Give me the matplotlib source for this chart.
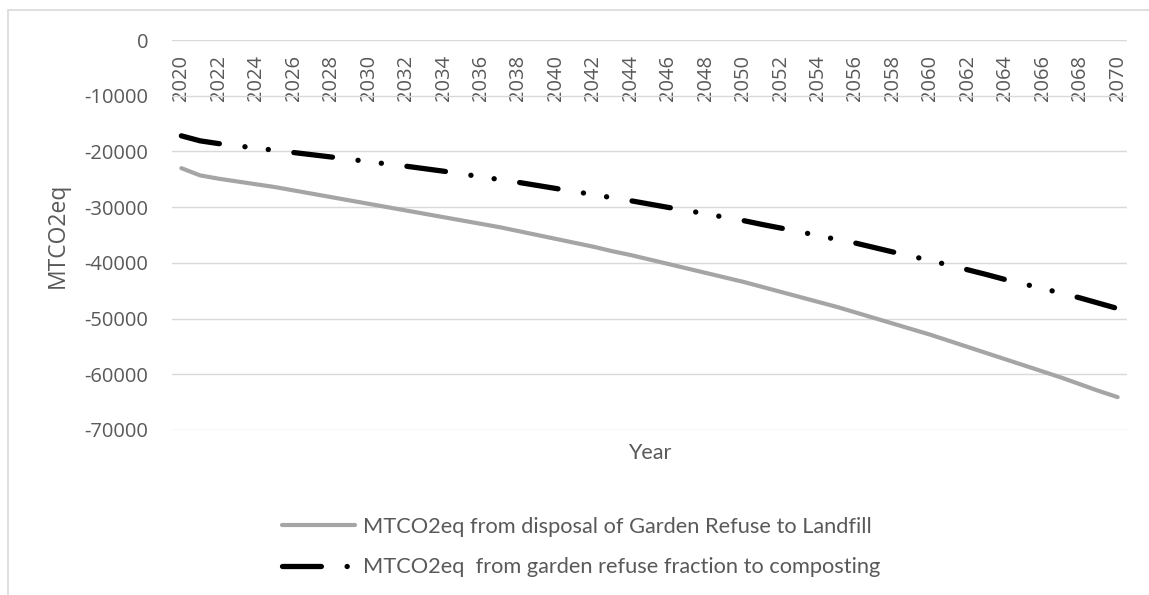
import matplotlib
matplotlib.use("Agg")
import matplotlib.pyplot as plt
from matplotlib.patches import Rectangle

years = list(range(2020, 2071))
landfill = [-23000, -24300, -24900, -25400, -25900, -26400, -27000, -27600, -28200, -28800,
            -29400, -30000, -30600, -31200, -31800, -32400, -33000, -33600, -34300, -35000,
            -35700, -36400, -37100, -37900, -38600, -39400, -40200, -41000, -41800, -42600,
            -43400, -44300, -45200, -46100, -47000, -47900, -48900, -49900, -50900, -51900,
            -52900, -54000, -55100, -56200, -57300, -58400, -59500, -60600, -61800, -63000,
            -64100]
composting = [-17200, -18100, -18600, -19000, -19400, -19800, -20200, -20600, -21000, -21400,
              -21850, -22250, -22650, -23100, -23550, -24050, -24550, -25050, -25550, -26100,
              -26650, -27200, -27750, -28300, -28850, -29450, -30050, -30600, -31200, -31800,
              -32400, -33100, -33750, -34400, -35100, -35800, -36450, -37250, -38050, -38800,
              -39600, -40400, -41250, -42100, -43000, -43800, -44600, -45450, -46300, -47250,
              -48200]
label_landfill = "MTCO2eq from disposal of Garden Refuse to Landfill"
label_compost = "MTCO2eq  from garden refuse fraction to composting"
y_ticks = [0, -10000, -20000, -30000, -40000, -50000, -60000, -70000]

plt.rcParams['font.family'] = ['Open Sans', 'DejaVu Sans']
plt.rcParams['lines.scale_dashes'] = False
txt = '#595959'

W, H = 1149, 595
fig = plt.figure(figsize=(W / 100, H / 100), dpi=100)
# light frame of the chart area (cropped at right/bottom like the original)
fig.patches.append(Rectangle((8 / W, -0.1), 1.2, 1.1 - 10 / H, transform=fig.transFigure,
                             fill=False, edgecolor='#D9D9D9', linewidth=1.2))

ax = fig.add_axes([172 / W, 1 - 430 / H, (1127 - 172) / W, 390 / H])
ax.plot(years, landfill, color='#A5A5A5', lw=3.0, solid_capstyle='round',
        solid_joinstyle='round', label=label_landfill)
ax.plot(years, composting, color='black', lw=3.8, dash_capstyle='round',
        linestyle=(0, (28, 18.5, 0.1, 16.8, 0.1, 18.5)), label=label_compost)

ax.set_xlim(2019.5, 2070.5)
ax.set_ylim(-70000, 0)
ax.set_yticks(y_ticks)
ax.set_yticklabels([str(v) for v in y_ticks])
ax.yaxis.grid(True, color='#D9D9D9', linewidth=1.0)
ax.set_axisbelow(True)
for s in ax.spines.values():
    s.set_visible(False)
ax.tick_params(axis='y', length=0, pad=17, labelsize=14.5, labelcolor=txt)

# category labels sit just under the zero line
ax.xaxis.tick_top()
ax.set_xticks(years[::2])
ax.set_xticklabels([str(y) for y in years[::2]], rotation=90)
ax.tick_params(axis='x', length=0, pad=-10.5, labelsize=14.5, labelcolor=txt)
for lab in ax.get_xticklabels():
    lab.set_va('top')

ax.set_ylabel("MTCO2eq", fontsize=16.5, color=txt, va='center')
ax.yaxis.set_label_coords((58 - 172) / 955, 0.5)
ax.xaxis.set_label_position('bottom')
ax.set_xlabel("Year", fontsize=15.5, color=txt, va='center', family='Lato')
ax.xaxis.set_label_coords(0.5, (430 - 453) / 390)

fig.legend(loc='center left', bbox_to_anchor=(282 / W, 1 - 547 / H), frameon=False,
           prop={'family': 'Lato', 'size': 15.7}, labelcolor=txt, handlelength=3.35,
           handletextpad=0.36, labelspacing=0.95, borderpad=0, borderaxespad=0)

fig.savefig('out.png', dpi=100)
